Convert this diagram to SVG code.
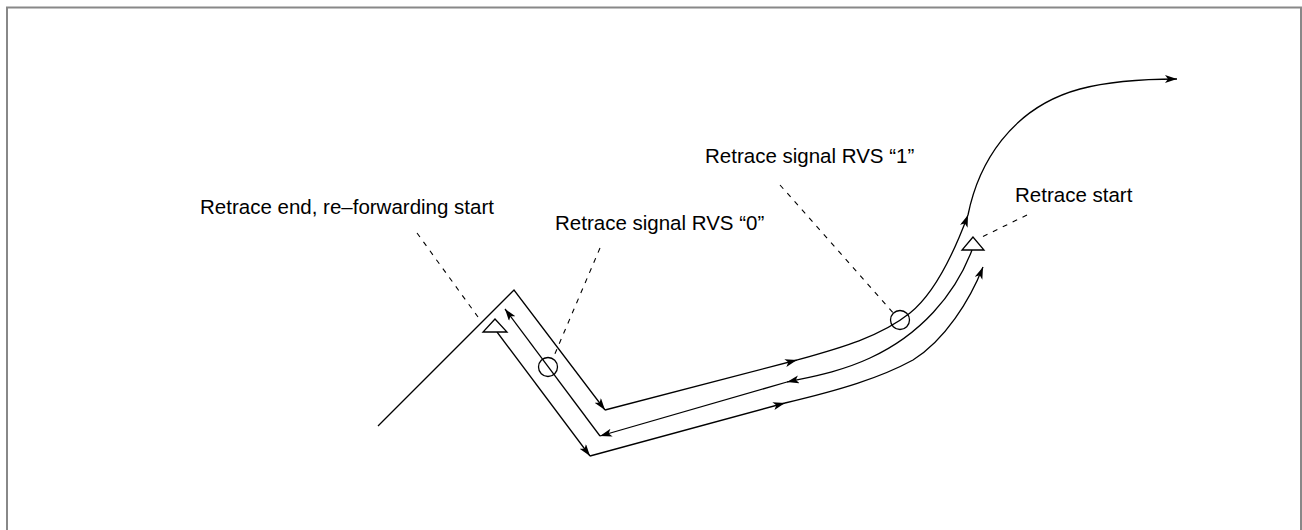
<svg xmlns="http://www.w3.org/2000/svg" width="1302" height="530" viewBox="0 0 1302 530">
<style>
.ln{fill:none;stroke:#000;stroke-width:1.3}
.ar{marker-end:url(#ah)}
.ld{fill:none;stroke:#000;stroke-width:1.1;stroke-dasharray:5,6}
.mk{fill:#fff;stroke:#000;stroke-width:1.3}
.cm{fill:none;stroke:#000;stroke-width:1.3}
text{font-family:"Liberation Sans",Arial,sans-serif;font-size:20.5px;fill:#000}
</style>
<defs>
<marker id="ah" markerUnits="userSpaceOnUse" markerWidth="14" markerHeight="10" refX="12" refY="4" orient="auto">
<path d="M0,0 L12,4 L0,8 L3,4 z" fill="#000"/>
</marker>
</defs>
<rect x="7" y="7.5" width="1294" height="540" fill="#fff" stroke="#888" stroke-width="2"/>
<g id="connectors">
<path class="ln ar" d="M378,426 L514,290 L605,410"/>
<path class="ln ar" d="M605,410 L797,360"/>
<path class="ln ar" d="M797,360 C840,348 880,337 910,313 C935,293 955,250 968,215"/>
<path class="ln ar" d="M968,215 C978,165 1010,108 1080,89 C1110,81 1150,79 1177,79"/>
<path class="ln ar" d="M972,250 C955,295 920,335 870,358 C840,372 810,377 787,382"/>
<path class="ln ar" d="M787,382 L600,436"/>
<path class="ln ar" d="M600,436 L505,309"/>
<path class="ln ar" d="M497,332 L590,456"/>
<path class="ln ar" d="M590,456 L785,403"/>
<path class="ln ar" d="M785,403 C840,390 880,378 913,360 C945,340 970,300 983,267"/>
<line class="ld" x1="417" y1="233" x2="478" y2="317"/>
<line class="ld" x1="600" y1="248" x2="554" y2="356"/>
<line class="ld" x1="780" y1="185" x2="896" y2="316"/>
<line class="ld" x1="1027" y1="215" x2="980" y2="238"/>
</g>
<g id="retrace-end">
<polygon class="mk" points="495,319 483,332 507,332"/>
<text x="200" y="214">Retrace end, re–forwarding start</text>
</g>
<g id="rvs0">
<circle class="cm" cx="548" cy="367" r="9.5"/>
<text x="555" y="230">Retrace signal RVS “0”</text>
</g>
<g id="rvs1">
<circle class="cm" cx="900" cy="320" r="9.5"/>
<text x="705" y="163">Retrace signal RVS “1”</text>
</g>
<g id="retrace-start">
<polygon class="mk" points="973,237 962,250 984,250"/>
<text x="1015" y="202">Retrace start</text>
</g>
</svg>
